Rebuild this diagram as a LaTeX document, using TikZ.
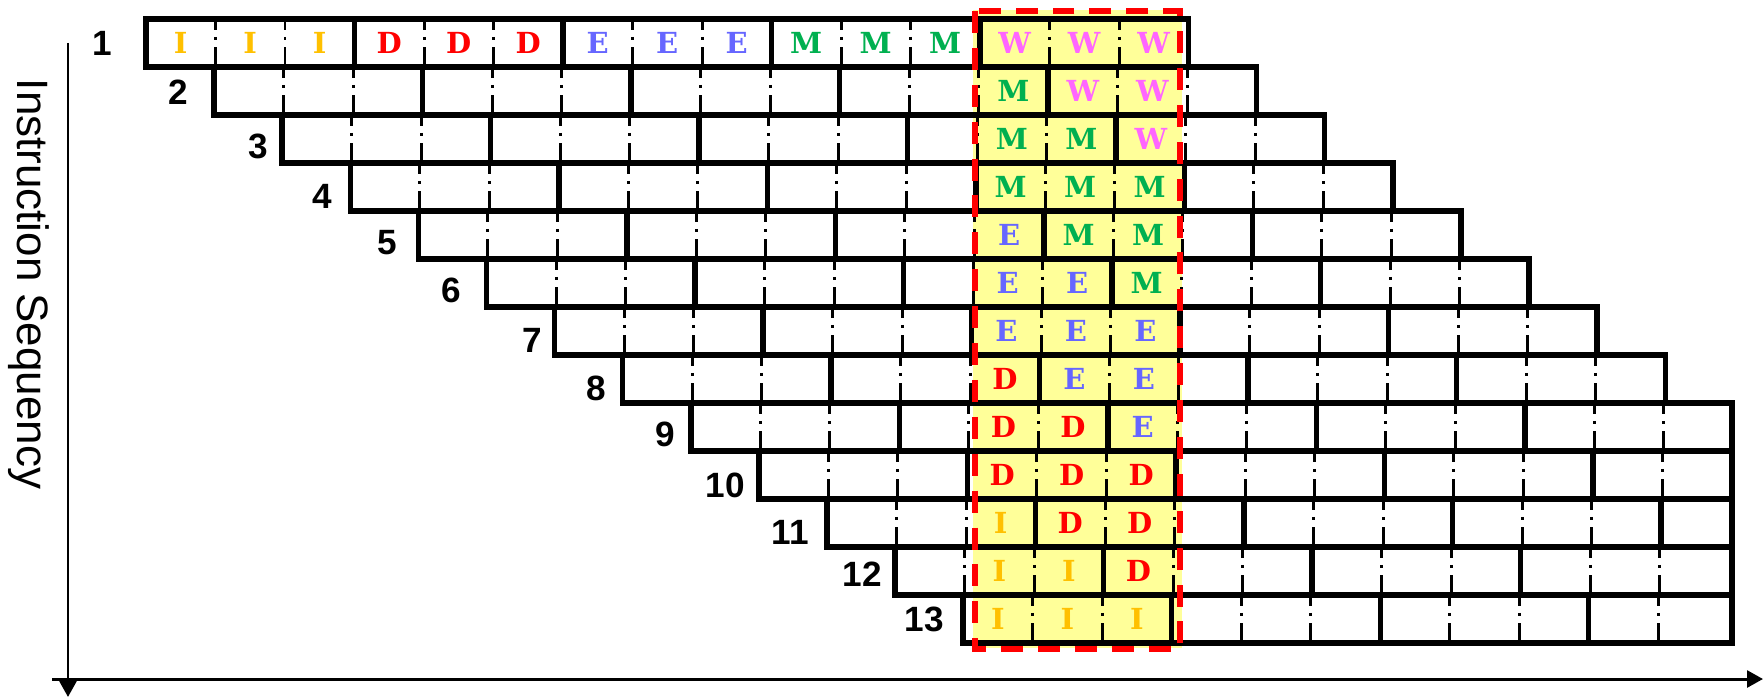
\documentclass[tikz,border=0pt]{standalone}
\usepackage{fontspec}
\setmainfont{Liberation Sans}
\newfontfamily\cellfont{DejaVu Serif}
\usetikzlibrary{arrows.meta}
\definecolor{cI}{HTML}{FFC000}
\definecolor{cD}{HTML}{FF0000}
\definecolor{cE}{HTML}{6666FF}
\definecolor{cM}{HTML}{00B050}
\definecolor{cW}{HTML}{FF66FF}
\definecolor{hly}{HTML}{FFFF99}
\newcommand\stg[1]{\ifcase#1\textcolor{cI}{I}\or\textcolor{cD}{D}\or\textcolor{cE}{E}\or\textcolor{cM}{M}\or\textcolor{cW}{W}\fi}
\begin{document}
\begin{tikzpicture}[x=0.02cm,y=-0.02cm,
  bold/.style={line width=3.1pt},
  sep/.style={line width=1.7pt, dash pattern=on 6.2pt off 4pt on 1.8pt off 4pt on 20pt},
  celltxt/.style={font=\cellfont\bfseries\fontsize{16.5}{16.5}\selectfont, inner sep=0pt},
  numlbl/.style={font=\bfseries\fontsize{20}{20}\selectfont, inner sep=0pt},
  axis/.style={line width=1.7pt, -{Triangle[length=9pt,width=9.5pt]}},
  hlbox/.style={draw=red, line width=2.9pt, dash pattern=on 12.5pt off 8.5pt},
]
\useasboundingbox (0,0) rectangle (1763,696);
% highlight fill
\fill[hly] (973,10) rectangle (1182,648);
% rows
\foreach \r in {1,...,13} {
  \pgfmathsetmacro\L{146+68.1*(\r-1)}
  \pgfmathsetmacro\T{19+48*(\r-1)}
  \pgfmathsetmacro\B{\T+48}
  \pgfmathsetmacro\R{min(\L+15*69.5,1732)}
  \foreach \j in {1,...,14} {
    \pgfmathsetmacro\X{\L+69.5*\j}
    \pgfmathtruncatemacro\ok{\X<\R-10}
    \pgfmathtruncatemacro\m{mod(\j,3)}
    \ifnum\ok=1
      \ifnum\m=0 \draw[bold] (\X,\T) -- (\X,\B);
      \else \draw[sep] (\X,\T) -- (\X,\B); \fi
    \fi
  }
  \draw[bold] (\L,\T) rectangle (\R,\B);
}
% letters
\foreach \r in {1,...,13} {
  \pgfmathsetmacro\L{146+68.1*(\r-1)}
  \pgfmathsetmacro\Y{19+48*(\r-1)+24}
  \pgfmathtruncatemacro\a{\r==1 ? 0 : 13-\r}
  \pgfmathtruncatemacro\b{\r==1 ? 14 : 15-\r}
  \foreach \j in {\a,...,\b} {
    \pgfmathtruncatemacro\s{floor(\j/3)}
    \node[celltxt] (c-\r-\j) at ({\L+69.5*(\j+0.5)},\Y) {\stg{\s}};
  }
}
% red dashed box
\draw[hlbox] (975,11) rectangle (1180,649);
% row labels
\foreach \n/\x/\y in {1/102/43,2/178/92,3/258/146,4/322/196,5/387/243,6/451/290,7/532/340,8/596/388,9/665/434,10/725/485,11/790/532,12/862/574,13/924/619} {
  \node[numlbl] (lbl\n) at (\x,\y) {\n};
}
% axes
\coordinate (vtop) at (68,43);
\coordinate (vbot) at (68,697);
\coordinate (hleft) at (52,679);
\coordinate (hright) at (1763,679);
\draw[axis] (vtop) -- (vbot);
\draw[axis] (hleft) -- (hright);
\node[font=\fontsize{25}{25}\selectfont, rotate=-90] (title) at (29,284) {Instruction Sequency};
\end{tikzpicture}
\end{document}
